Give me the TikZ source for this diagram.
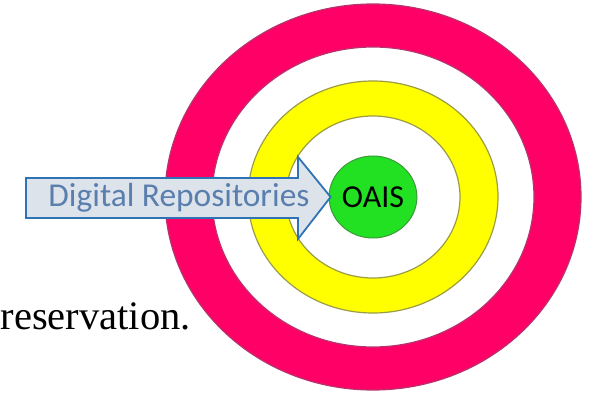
\documentclass[tikz,border=0pt]{standalone}
\usepackage{fontspec}
\setmainfont{Liberation Serif}
\newfontfamily\calibrifont{Carlito}
\usetikzlibrary{shapes.geometric}

\definecolor{ringpink}{HTML}{FF0066}
\definecolor{pinkedge}{HTML}{B8336E}
\definecolor{ringyellow}{HTML}{FFFF00}
\definecolor{yellowedge}{HTML}{9C9C45}
\definecolor{coregreen}{HTML}{22E022}
\definecolor{greenedge}{HTML}{3C9A3C}
\definecolor{arrowfill}{HTML}{DDE3EB}
\definecolor{arrowedge}{HTML}{2E74B5}
\definecolor{repotext}{HTML}{5A7FAE}

\begin{document}
\begin{tikzpicture}[x=1pt, y=-1pt,
    ring/.style={line width=1.2pt},
    labeltext/.style={font=\calibrifont\fontsize{32}{32}\selectfont, inner sep=0pt}]
  \useasboundingbox (0,0) rectangle (603,393);
  \coordinate (c) at (373,197);

  % target rings
  \filldraw[ring, fill=ringpink, draw=pinkedge] (c) ellipse [x radius=208, y radius=193];
  \filldraw[ring, fill=white, draw=pinkedge] (c) ellipse [x radius=161, y radius=150];
  \filldraw[ring, fill=ringyellow, draw=yellowedge] (c) ellipse [x radius=125, y radius=116];
  \filldraw[ring, fill=white, draw=yellowedge] (c) ellipse [x radius=87, y radius=81];

  \node[ellipse, minimum width=87pt, minimum height=82pt, fill=coregreen, draw=greenedge,
        line width=1pt, labeltext, text=black] (oais) at (c) {OAIS};

  % block arrow
  \coordinate (tip) at ([xshift=2pt]oais.west);
  \filldraw[fill=arrowfill, draw=arrowedge, line width=1.8pt, line join=miter]
    (26,178) -- (298,178) -- (298,157) -- (tip) -- (298,239) -- (298,218) -- (26,218) -- cycle;
  \node[labeltext, font=\calibrifont\fontsize{33.4}{33.4}\selectfont, text=repotext] (repo)
    at (179,198) {Digital Repositories};

  \node[anchor=base west, inner sep=0pt, font=\fontsize{40.5}{40.5}\selectfont] (caption)
    at (0.5,329) {reservation.};
\end{tikzpicture}
\end{document}
